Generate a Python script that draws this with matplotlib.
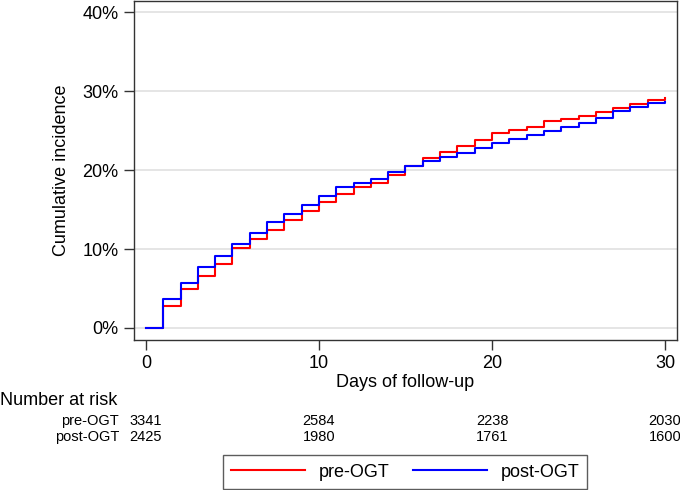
import numpy as np
import matplotlib
matplotlib.use('Agg')
import matplotlib.pyplot as plt
import matplotlib.ticker as mtick
from matplotlib import transforms

plt.rcParams['font.family'] = ['Liberation Sans', 'DejaVu Sans']

days = np.arange(0, 31)
# cumulative incidence (%) after each day's step, day 0..30
pre_ogt = [0, 2.83, 4.94, 6.55, 8.11, 10.18, 11.32, 12.38, 13.73, 14.83,
           15.97, 17.02, 17.87, 18.42, 19.43, 20.49, 21.50, 22.30, 23.06,
           23.86, 24.71, 25.09, 25.47, 26.19, 26.44, 26.82, 27.29, 27.79,
           28.30, 28.85, 29.06]
post_ogt = [0, 3.67, 5.66, 7.73, 9.08, 10.60, 12.08, 13.43, 14.40, 15.63,
            16.68, 17.87, 18.37, 18.84, 19.81, 20.57, 21.16, 21.71, 22.18,
            22.81, 23.36, 23.99, 24.41, 24.96, 25.51, 25.93, 26.65, 27.41,
            27.92, 28.43, 28.60]

risk_days = [0, 10, 20, 30]
risk_pre = [3341, 2584, 2238, 2030]
risk_post = [2425, 1980, 1761, 1600]
group_names = ['pre-OGT', 'post-OGT']

fig = plt.figure(figsize=(6.8, 4.9), dpi=100)
ax = fig.add_axes([134 / 680, 1 - 340 / 490, 543 / 680, 339 / 490])

ax.step(days, pre_ogt, where='post', color='#ff0000', lw=1.5, label='pre-OGT')
ax.step(days, post_ogt, where='post', color='#0000ff', lw=1.5, label='post-OGT')

ax.set_xlim(-0.69, 30.69)
ax.set_ylim(-1.52, 41.4)
ax.set_xticks([0, 10, 20, 30])
ax.set_yticks([0, 10, 20, 30, 40])
ax.yaxis.set_major_formatter(mtick.PercentFormatter(decimals=0))
ax.grid(axis='y', color='#e3e3e3', lw=1.3)
ax.set_axisbelow(True)
for s in ax.spines.values():
    s.set_linewidth(1.0)
    s.set_color('#333333')
ax.tick_params(direction='out', length=7, width=1, labelsize=13, pad=4,
               color='#333333')
ax.set_xlabel('Days of follow-up', fontsize=13, labelpad=1)
ax.set_ylabel('Cumulative incidence', fontsize=13, labelpad=9)

# number at risk table
trans = transforms.blended_transform_factory(ax.transData, fig.transFigure)
fig.text(0.0, 1 - 400 / 490, 'Number at risk', fontsize=13, va='center', ha='left')
for row, (name, vals) in enumerate(zip(group_names, [risk_pre, risk_post])):
    y = 1 - (421 + row * 16) / 490
    fig.text(119 / 680, y, name, fontsize=10.5, ha='right', va='center')
    for d, v in zip(risk_days, vals):
        ax.text(d, y, str(v), transform=trans, fontsize=10.5, ha='center',
                va='center', clip_on=False)

handles, labels = ax.get_legend_handles_labels()
leg = fig.legend(handles, labels, loc='center', bbox_to_anchor=(405 / 680, 1 - 472 / 490),
                 ncol=2, frameon=True, fancybox=False, fontsize=13,
                 handlelength=4.1, handletextpad=0.75, columnspacing=1.3,
                 borderpad=0.45, borderaxespad=0)
leg.get_frame().set_edgecolor('#333333')
leg.get_frame().set_linewidth(1.0)

fig.savefig('out.png', dpi=100)
